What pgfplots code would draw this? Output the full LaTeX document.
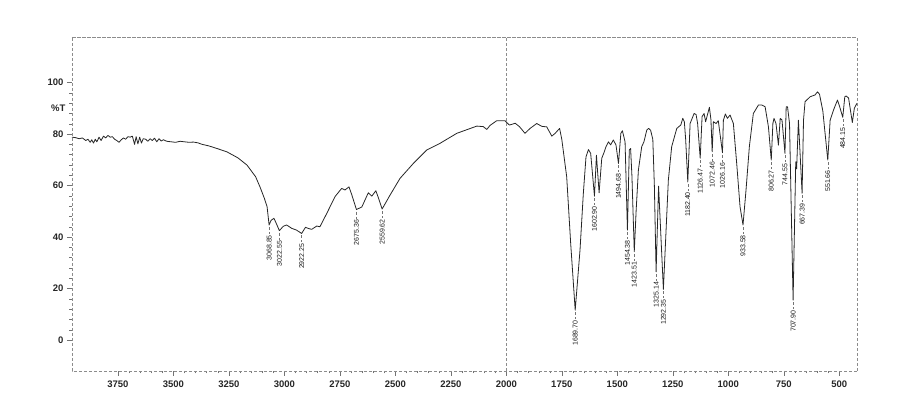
\documentclass[border=0pt]{standalone}
\usepackage{pgfplots}
\pgfplotsset{compat=1.18}
\usepackage{fontspec}
\setmainfont{Liberation Sans}
\newcommand{\pk}[2]{\draw[densely dashed, black!55, line width=0.4pt] (axis cs:#1,#2) ++(0pt,-2pt) -- ++(0pt,-7pt) node[anchor=east, rotate=90, inner sep=1pt, font=\fontsize{7}{8}\selectfont, text=black!90] {#1};}
\begin{document}
\begin{tikzpicture}[x=1pt,y=1pt]
\path[use as bounding box] (0,0) rectangle (899,406);
\begin{axis}[
  scale only axis, width=785pt, height=334pt,
  at={(72pt,35pt)}, anchor=south west,
  x dir=reverse, xmin=420, xmax=3957, ymin=-12, ymax=117.7,
  xtick={500,750,...,3750}, ytick={0,20,...,100},
  minor x tick num=4, minor y tick num=4,
  tick pos=left, tick align=outside,
  major tick length=5pt, minor tick length=2.5pt,
  axis line style={black!45, densely dashed, line width=0.5pt},
  tick style={black!55, solid, line width=0.5pt},
  ticklabel style={font=\fontsize{9.5}{11}\selectfont\bfseries, text=black!85},
  xticklabel style={yshift=-1pt},
  extra y ticks={90}, extra y tick labels={\%T},
  extra y tick style={major tick length=0pt, yticklabel style={xshift=-3pt}},
  /pgf/number format/1000 sep={},
  /pgf/number format/assume math mode=true,
  clip=false,
]
\addplot[black!85, line width=0.8pt, line join=round] table {
v T
3957 78.8
3940 78.6
3925 78.2
3910 78.5
3895 77.5
3885 78.0
3875 76.8
3868 77.8
3860 76.5
3852 78.0
3845 77.0
3835 78.8
3826 77.5
3815 79.2
3805 78.5
3795 79.5
3785 78.8
3775 79.0
3765 78.0
3755 77.5
3745 76.8
3735 77.8
3725 78.5
3715 78.0
3705 79.0
3695 78.8
3685 79.2
3675 76.0
3668 79.0
3660 76.2
3652 78.8
3644 76.5
3636 78.2
3625 78.0
3615 77.2
3605 78.2
3595 77.5
3585 78.4
3575 77.0
3565 78.2
3555 77.3
3545 77.8
3530 77.2
3510 77.0
3490 76.8
3470 77.2
3450 77.0
3430 76.8
3410 76.9
3390 76.6
3370 76.0
3340 75.4
3300 74.3
3259 73.1
3210 70.8
3169 68.0
3130 63.5
3110 59.5
3090 55.0
3078 51.8
3068.85 44.7
3060 46.5
3047 47.3
3035 45.0
3022.55 42.5
3005 44.2
2990 44.7
2967 43.4
2945 42.7
2922.25 41.4
2905 43.8
2890 43.3
2877 43.0
2854 44.3
2840 44.0
2809 49.2
2772 55.7
2742 58.9
2727 58.3
2709 59.5
2697 56.6
2675.36 50.7
2651 51.7
2622 57.2
2606 55.9
2588 58.0
2577 55.4
2559.62 50.9
2524 56.3
2479 62.8
2419 68.6
2359 73.8
2299 76.4
2223 80.3
2133 83.1
2104 82.9
2088 81.8
2073 83.4
2043 85.2
2006 85.2
1995 84.2
1986 83.5
1960 84.2
1941 82.9
1916 80.3
1893 82.2
1863 84.1
1840 83.0
1818 82.8
1795 79.2
1780 80.3
1760 82.2
1750 77.9
1728 63.4
1710 37.5
1689.7 11.6
1668 35
1653 57
1641 71.2
1630 74
1620 72.5
1602.9 55.9
1594 71.8
1582 57.2
1570 70.6
1560 72.8
1551 75.1
1540 77
1530 75.8
1518 77.7
1506 75.8
1494.68 68.6
1484 80.3
1477 81.3
1465 77
1454.38 42.7
1446 73.8
1440 74.4
1434 63.6
1423.51 34.3
1415 50.5
1405 66
1390 75.1
1380 77
1367 81.6
1359 82.2
1350 81.5
1340 78
1333 60
1325.14 26.5
1314 59.8
1292.35 19.7
1270 62.1
1255 75.1
1232 82.2
1214 83.5
1205 86.1
1198 84.8
1192 78
1182.4 61.4
1172 84.1
1154 88
1145 87.6
1138 84
1126.47 70.6
1118 86.8
1109 88
1102 84.8
1085 90.4
1078 85.5
1072.46 73.1
1067 84.8
1055 84.1
1045 85.2
1026.16 72.8
1022 85.4
1013 87.8
1004 86.1
992 87.4
977 84.1
962 68.6
947 51.8
933.58 44.7
920 58.3
905 75.1
887 88
864 91.3
849 91.3
834 90.6
819 82.8
806.27 69.9
799 84.1
794 86.1
785 84.1
774 75.7
766 86.1
758 85.5
744.55 72.5
739 90.6
733 90.6
724 84.1
707.9 15.5
696 69.2
692 66.5
684 85.4
667.39 57
661 85.4
654 92.6
631 94.5
609 95.2
598 96.4
589 95.5
574 89
551.66 69.9
541 85.4
526 89.3
508 93.2
498 90.6
484.15 86.5
475 94.5
469 94.8
458 94
441 84.5
432 90
420 92
};
\addplot[black!45, densely dashed, line width=0.5pt] coordinates {(2000,-12) (2000,117.7)};
\addplot[black!45, densely dashed, line width=0.5pt] coordinates {(3957,117.7) (420,117.7)};
\addplot[black!45, densely dashed, line width=0.5pt] coordinates {(420,-12) (420,117.7)};
\pk{3068.85}{44.7}
\pk{3022.55}{42.5}
\pk{2922.25}{41.4}
\pk{2675.36}{50.7}
\pk{2559.62}{50.9}
\pk{1689.70}{11.6}
\pk{1602.90}{55.9}
\pk{1494.68}{68.6}
\pk{1454.38}{42.7}
\pk{1423.51}{34.3}
\pk{1325.14}{26.5}
\pk{1292.35}{19.7}
\pk{1182.40}{61.4}
\pk{1126.47}{70.6}
\pk{1072.46}{73.1}
\pk{1026.16}{72.8}
\pk{933.58}{44.7}
\pk{806.27}{69.9}
\pk{744.55}{72.5}
\pk{707.90}{15.5}
\pk{667.39}{57}
\pk{551.66}{69.9}
\pk{484.15}{86.5}
\end{axis}
\end{tikzpicture}
\end{document}
